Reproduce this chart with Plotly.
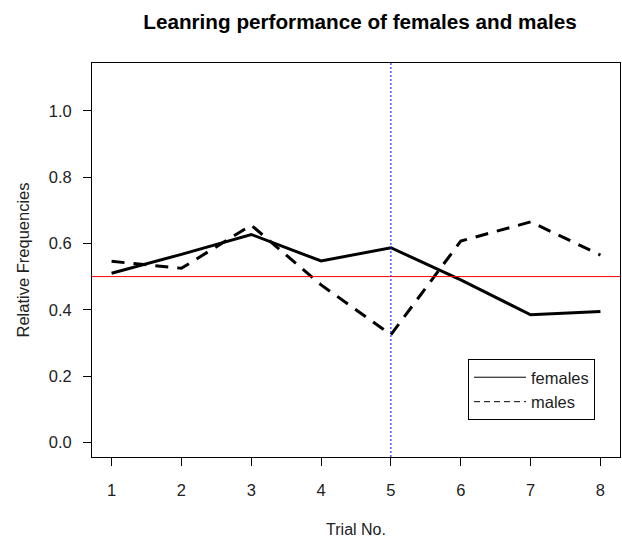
import plotly.graph_objects as go

trials = [1, 2, 3, 4, 5, 6, 7, 8]
females = [0.51, 0.567, 0.627, 0.547, 0.587, 0.49, 0.385, 0.395]
males = [0.546, 0.525, 0.655, 0.475, 0.325, 0.607, 0.665, 0.565]
y_ticks = [0.0, 0.2, 0.4, 0.6, 0.8, 1.0]
y_tick_labels = ["0.0", "0.2", "0.4", "0.6", "0.8", "1.0"]

FONT = "Liberation Sans, Arial, sans-serif"

fig = go.Figure()
fig.add_trace(go.Scatter(x=trials, y=females, mode="lines",
                         line=dict(color="black", width=3), showlegend=False))
fig.add_trace(go.Scatter(x=trials, y=males, mode="lines",
                         line=dict(color="black", width=3, dash="13px,9px"), showlegend=False))
# legend entries (thin lines as in reference)
fig.add_trace(go.Scatter(x=[None], y=[None], mode="lines", name="females",
                         line=dict(color="black", width=1)))
fig.add_trace(go.Scatter(x=[None], y=[None], mode="lines", name="males  ",
                         line=dict(color="black", width=1, dash="6px,4px")))

fig.add_hline(y=0.5, line=dict(color="red", width=1))
fig.add_vline(x=5, line=dict(color="blue", width=1, dash="2px,2px"))

fig.update_layout(
    width=622, height=538,
    margin=dict(l=92, r=2, t=63, b=81),
    plot_bgcolor="white", paper_bgcolor="white",
    font=dict(family=FONT, size=16, color="#222"),
    title=dict(text="<b>Leanring performance of females and males</b>",
               x=360 / 622, xanchor="center",
               y=1 - 22 / 538, yanchor="middle",
               font=dict(size=20.7, color="black")),
    showlegend=True,
    legend=dict(x=(468 - 92) / 528, y=(457 - 359) / 394, xanchor="left", yanchor="top",
                bordercolor="black", borderwidth=1, bgcolor="white",
                font=dict(size=16.5, color="#222"),
                itemwidth=52, tracegroupgap=0),
    xaxis=dict(range=[0.72, 8.28], tickvals=trials, ticktext=[str(t) for t in trials],
               showgrid=False, zeroline=False, showline=True, linecolor="black",
               linewidth=1, mirror=True, ticks="outside", ticklen=8, automargin=False,
               tickcolor="black", tickfont=dict(size=16.5), ticklabelstandoff=10,
               title=dict(text="Trial No.", standoff=32, font=dict(size=16))),
    yaxis=dict(range=[-0.044, 1.144], tickvals=y_ticks, ticktext=y_tick_labels,
               showgrid=False, zeroline=False, showline=True, linecolor="black",
               linewidth=1, mirror=True, ticks="outside", ticklen=8, automargin=False,
               tickcolor="black", tickfont=dict(size=16.5), ticklabelstandoff=8,
               title=dict(text="Relative Frequencies", standoff=14, font=dict(size=16.5))),
)

fig.write_html("out.html")
